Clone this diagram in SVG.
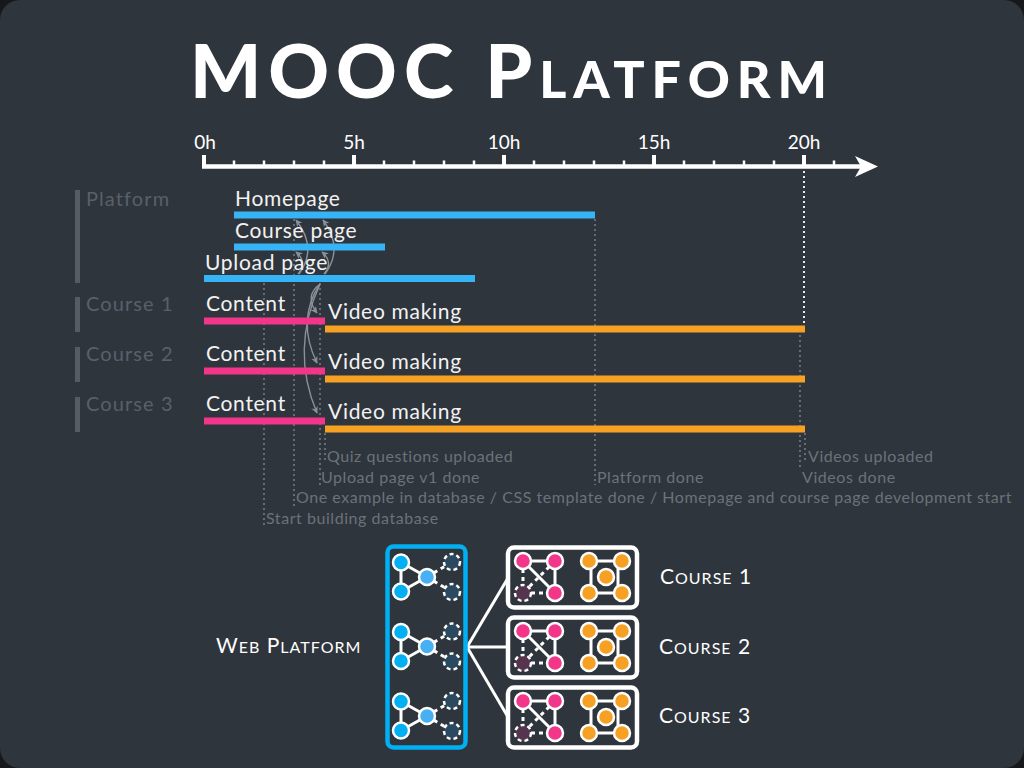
<svg xmlns="http://www.w3.org/2000/svg" width="1024" height="768" viewBox="0 0 1024 768">
  <defs>
    <style>
      .title { font-family: Lato, "Liberation Sans", sans-serif; font-weight: 900; fill: #ffffff; }
      .tick { font-family: Lato, "Liberation Sans", sans-serif; font-size: 19px; fill: #ffffff; text-anchor: middle; }
      .bar-label { font-family: Lato, "Liberation Sans", sans-serif; font-size: 21px; fill: #f2f2f2; letter-spacing: 0.7px; }
      .cat-label { font-family: Lato, "Liberation Sans", sans-serif; font-size: 20px; fill: #59606a; letter-spacing: 1.1px; }
      .event { font-family: Lato, "Liberation Sans", sans-serif; font-size: 16px; fill: #6b7279; letter-spacing: 0.55px; }
      .sc { font-family: Lato, "Liberation Sans", sans-serif; fill: #ffffff; letter-spacing: 1px; }
      .cat-bar { fill: #555c64; }
      .blue { fill: #36b4f6; }
      .pink { fill: #f2378b; }
      .orange { fill: #f6a123; }
      .dot { stroke: #747a82; stroke-width: 1.6; stroke-dasharray: 2 3; fill: none; }
      .dot-white { stroke: #ffffff; stroke-width: 1.8; stroke-dasharray: 2 3; fill: none; }
      .curve { stroke: #8b9198; stroke-width: 1.4; fill: none; marker-end: url(#tip); }
      .edge { stroke: #ffffff; stroke-width: 3; fill: none; }
      .edge-dash { stroke: #ffffff; stroke-width: 3; fill: none; stroke-dasharray: 4 4; }
      .node { stroke: #ffffff; stroke-width: 2.5; }
      .node-dash { stroke: #ffffff; stroke-width: 2.5; stroke-dasharray: 4 3; }
    </style>
    <marker id="tip" viewBox="0 0 10 10" refX="9" refY="5" markerWidth="7" markerHeight="7" orient="auto" markerUnits="userSpaceOnUse">
      <path d="M0,0 L10,5 L0,10 L3,5 Z" fill="#8b9198"/>
    </marker>
    <!-- one web-platform cluster: three services and two pending slots -->
    <g id="web-cluster">
      <line class="edge" x1="401" y1="562.5" x2="401" y2="591.5"/>
      <line class="edge" x1="401" y1="562.5" x2="427" y2="577"/>
      <line class="edge" x1="401" y1="591.5" x2="427" y2="577"/>
      <line class="edge-dash" x1="427" y1="577" x2="452" y2="562"/>
      <line class="edge-dash" x1="427" y1="577" x2="452" y2="592"/>
      <circle class="node" cx="401" cy="562.5" r="8" fill="#00b0f2"/>
      <circle class="node" cx="401" cy="591.5" r="8" fill="#00b0f2"/>
      <circle class="node" cx="427" cy="577" r="8" fill="#46b0f2"/>
      <circle class="node-dash" cx="452" cy="562" r="8" fill="#2b4a5f"/>
      <circle class="node-dash" cx="452" cy="592" r="8" fill="#2b4a5f"/>
    </g>
    <!-- one course cluster: content graph (pink) and video graph (orange) -->
    <g id="course-cluster">
      <rect x="508" y="547.5" width="129" height="60" rx="6" fill="none" stroke="#ffffff" stroke-width="4.5"/>
      <line class="edge" x1="523" y1="561" x2="555" y2="561"/>
      <line class="edge" x1="555" y1="561" x2="555" y2="593"/>
      <line class="edge" x1="523" y1="561" x2="555" y2="593"/>
      <line class="edge-dash" x1="523" y1="561" x2="523" y2="593"/>
      <line class="edge-dash" x1="523" y1="593" x2="555" y2="593"/>
      <line class="edge-dash" x1="555" y1="561" x2="523" y2="593"/>
      <circle class="node" cx="523" cy="561" r="8" fill="#f2378b"/>
      <circle class="node" cx="555" cy="561" r="8" fill="#f2378b"/>
      <circle class="node" cx="555" cy="593" r="8" fill="#f2378b"/>
      <circle class="node-dash" cx="523" cy="593" r="8" fill="#55344e"/>
      <line class="edge" x1="589" y1="561" x2="622" y2="561"/>
      <line class="edge" x1="589" y1="593" x2="622" y2="593"/>
      <line class="edge" x1="591" y1="561" x2="591" y2="593"/>
      <line class="edge" x1="618" y1="561" x2="618" y2="593"/>
      <circle class="node" cx="589" cy="561" r="8" fill="#f6a123"/>
      <circle class="node" cx="622" cy="561" r="8" fill="#f6a123"/>
      <circle class="node" cx="589" cy="593" r="8" fill="#f6a123"/>
      <circle class="node" cx="622" cy="593" r="8" fill="#f6a123"/>
      <circle class="node" cx="606" cy="577" r="8" fill="#f6a123"/>
    </g>
  </defs>

  <!-- canvas -->
  <rect x="0" y="0" width="1024" height="768" fill="#16191c"/>
  <rect x="0" y="0" width="1024" height="768" rx="20" fill="#2f353d"/>

  <!-- title -->
  <text class="title" x="512" y="98" text-anchor="middle" font-size="75" letter-spacing="7">MOOC P<tspan font-size="52">LATFORM</tspan></text>

  <!-- time axis: 30px per hour, 0h at x=204 -->
  <g id="axis">
    <line x1="202" y1="166.5" x2="862" y2="166.5" stroke="#ffffff" stroke-width="4.5"/>
    <polygon points="878,166.5 855,156 861,166.5 855,177" fill="#ffffff"/>
    <g stroke="#ffffff" stroke-width="4">
      <line x1="204" y1="155" x2="204" y2="167"/>
      <line x1="354" y1="155" x2="354" y2="167"/>
      <line x1="504" y1="155" x2="504" y2="167"/>
      <line x1="654" y1="155" x2="654" y2="167"/>
      <line x1="804" y1="155" x2="804" y2="167"/>
    </g>
    <g stroke="#ffffff" stroke-width="2.5">
      <line x1="234" y1="160.5" x2="234" y2="167"/>
      <line x1="264" y1="160.5" x2="264" y2="167"/>
      <line x1="294" y1="160.5" x2="294" y2="167"/>
      <line x1="324" y1="160.5" x2="324" y2="167"/>
      <line x1="384" y1="160.5" x2="384" y2="167"/>
      <line x1="414" y1="160.5" x2="414" y2="167"/>
      <line x1="444" y1="160.5" x2="444" y2="167"/>
      <line x1="474" y1="160.5" x2="474" y2="167"/>
      <line x1="534" y1="160.5" x2="534" y2="167"/>
      <line x1="564" y1="160.5" x2="564" y2="167"/>
      <line x1="594" y1="160.5" x2="594" y2="167"/>
      <line x1="624" y1="160.5" x2="624" y2="167"/>
      <line x1="684" y1="160.5" x2="684" y2="167"/>
      <line x1="714" y1="160.5" x2="714" y2="167"/>
      <line x1="744" y1="160.5" x2="744" y2="167"/>
      <line x1="774" y1="160.5" x2="774" y2="167"/>
      <line x1="834" y1="160.5" x2="834" y2="167"/>
    </g>
    <text class="tick" x="205" y="149">0h</text>
    <text class="tick" x="354" y="149">5h</text>
    <text class="tick" x="504" y="149">10h</text>
    <text class="tick" x="654" y="149">15h</text>
    <text class="tick" x="804" y="149">20h</text>
  </g>

  <!-- milestone guides and dependency arrows -->
  <g id="connectors">
    <line class="dot-white" x1="804" y1="171" x2="804" y2="325"/>
    <line class="dot" x1="264" y1="283" x2="264" y2="526"/>
    <line class="dot" x1="294" y1="219" x2="294" y2="506"/>
    <line class="dot" x1="320" y1="283" x2="320" y2="485"/>
    <line class="dot" x1="325" y1="433" x2="325" y2="463"/>
    <line class="dot" x1="595" y1="219" x2="595" y2="485"/>
    <line class="dot" x1="800" y1="335" x2="800" y2="470"/>
    <line class="dot" x1="805" y1="433" x2="805" y2="460"/>
    <path class="curve" d="M298,274 Q308,262 296,252"/>
    <path class="curve" d="M299,274 Q318,248 296,220"/>
    <path class="curve" d="M324,274 Q334,262 322,252"/>
    <path class="curve" d="M325,274 Q344,248 323,220"/>
    <path class="curve" d="M320,284 Q304,296 317,313"/>
    <path class="curve" d="M320,284 Q296,320 317,363"/>
    <path class="curve" d="M320,284 Q290,350 317,413"/>
    <line class="edge" x1="467" y1="647" x2="508" y2="578" stroke-width="4"/>
    <line class="edge" x1="467" y1="647" x2="508" y2="647" stroke-width="4"/>
    <line class="edge" x1="467" y1="647" x2="508" y2="717" stroke-width="4"/>
  </g>

  <!-- category markers -->
  <g id="cat-platform">
    <rect class="cat-bar" x="75" y="190" width="5" height="93"/>
    <text class="cat-label" x="86" y="206">Platform</text>
  </g>
  <g id="cat-course-1">
    <rect class="cat-bar" x="75" y="297" width="5" height="35"/>
    <text class="cat-label" x="86" y="311">Course 1</text>
  </g>
  <g id="cat-course-2">
    <rect class="cat-bar" x="75" y="347" width="5" height="35"/>
    <text class="cat-label" x="86" y="361">Course 2</text>
  </g>
  <g id="cat-course-3">
    <rect class="cat-bar" x="75" y="397" width="5" height="35"/>
    <text class="cat-label" x="86" y="411">Course 3</text>
  </g>

  <!-- platform tasks -->
  <g id="task-homepage">
    <rect class="blue" x="234" y="211.5" width="361" height="7"/>
    <text class="bar-label" x="235" y="206">Homepage</text>
  </g>
  <g id="task-course-page">
    <rect class="blue" x="234" y="243.5" width="151" height="7"/>
    <text class="bar-label" x="235" y="238">Course page</text>
  </g>
  <g id="task-upload-page">
    <rect class="blue" x="204" y="275" width="271" height="7"/>
    <text class="bar-label" x="205" y="270">Upload page</text>
  </g>

  <!-- course tasks -->
  <g id="task-content-1">
    <rect class="pink" x="204" y="317.5" width="121" height="7"/>
    <text class="bar-label" x="206" y="311">Content</text>
  </g>
  <g id="task-video-1">
    <rect class="orange" x="325" y="325.5" width="480" height="7"/>
    <text class="bar-label" x="328" y="319">Video making</text>
  </g>
  <g id="task-content-2">
    <rect class="pink" x="204" y="367.5" width="121" height="7"/>
    <text class="bar-label" x="206" y="361">Content</text>
  </g>
  <g id="task-video-2">
    <rect class="orange" x="325" y="375.5" width="480" height="7"/>
    <text class="bar-label" x="328" y="369">Video making</text>
  </g>
  <g id="task-content-3">
    <rect class="pink" x="204" y="417.5" width="121" height="7"/>
    <text class="bar-label" x="206" y="411">Content</text>
  </g>
  <g id="task-video-3">
    <rect class="orange" x="325" y="425.5" width="480" height="7"/>
    <text class="bar-label" x="328" y="419">Video making</text>
  </g>

  <!-- milestones -->
  <g id="milestones">
    <text class="event" x="327" y="462">Quiz questions uploaded</text>
    <text class="event" x="321" y="483">Upload page v1 done</text>
    <text class="event" x="296" y="503">One example in database / CSS template done / Homepage and course page development start</text>
    <text class="event" x="266" y="524">Start building database</text>
    <text class="event" x="597" y="483">Platform done</text>
    <text class="event" x="808" y="462">Videos uploaded</text>
    <text class="event" x="802" y="483">Videos done</text>
  </g>

  <!-- architecture -->
  <g id="web-platform">
    <rect x="387.5" y="546.5" width="78" height="201" rx="6" fill="none" stroke="#00b0f2" stroke-width="4.5"/>
    <use href="#web-cluster"/>
    <use href="#web-cluster" y="69.5"/>
    <use href="#web-cluster" y="139"/>
    <text class="sc" x="216" y="653" font-size="21">W<tspan font-size="16">EB</tspan> P<tspan font-size="16">LATFORM</tspan></text>
  </g>
  <g id="course-1">
    <use href="#course-cluster"/>
    <text class="sc" x="660" y="584" font-size="21">C<tspan font-size="16">OURSE</tspan> 1</text>
  </g>
  <g id="course-2">
    <use href="#course-cluster" y="70"/>
    <text class="sc" x="659" y="654" font-size="21">C<tspan font-size="16">OURSE</tspan> 2</text>
  </g>
  <g id="course-3">
    <use href="#course-cluster" y="140"/>
    <text class="sc" x="659" y="723" font-size="21">C<tspan font-size="16">OURSE</tspan> 3</text>
  </g>
</svg>
